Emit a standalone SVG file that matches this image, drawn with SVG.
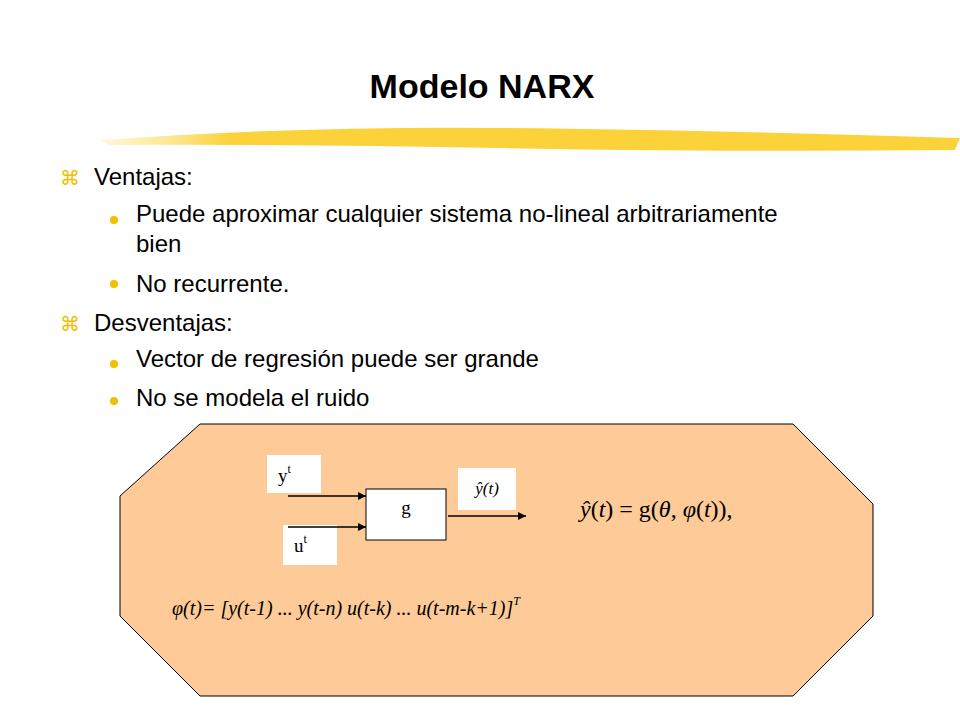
<svg xmlns="http://www.w3.org/2000/svg" width="960" height="720" viewBox="0 0 960 720">
<defs>
<style>
.t{font-family:"Liberation Sans",Arial,sans-serif;font-size:24px;fill:#000}
.b{font-family:"DejaVu Sans",sans-serif;font-size:20px;fill:#f0c000}
.m{font-family:"Liberation Serif","Times New Roman",serif;fill:#000}
.w{fill:#fff}
.ln{stroke:#000;stroke-width:1.3;fill:none}
</style>
<linearGradient id="br" x1="0" x2="1"><stop offset="0" stop-color="#ffe680" stop-opacity="0.3"/><stop offset="0.15" stop-color="#fcd23a"/><stop offset="1" stop-color="#fcd23a"/></linearGradient>
<marker id="ar" viewBox="0 0 10 10" refX="10" refY="5" markerWidth="8" markerHeight="8" markerUnits="userSpaceOnUse" orient="auto"><path d="M0,0L10,5L0,10z" fill="#000"/></marker>
</defs>
<rect width="960" height="720" fill="#fff"/>
<text x="482" y="98" text-anchor="middle" style="font-family:'Liberation Sans',Arial,sans-serif;font-size:34px;font-weight:bold">Modelo NARX</text>
<path d="M100,140 Q300,126 500,128 T960,138 L955,150 Q700,152 500,148 T110,145 Z" fill="url(#br)"/>
<text x="60" y="185" class="b">⌘</text><text x="94" y="185" class="t">Ventajas:</text>
<circle cx="114" cy="220" r="4" fill="#f0c000"/><text x="136" y="222" class="t">Puede aproximar cualquier sistema no-lineal arbitrariamente</text>
<text x="136" y="252" class="t">bien</text>
<circle cx="114" cy="284" r="4" fill="#f0c000"/><text x="136" y="292" class="t">No recurrente.</text>
<text x="60" y="331" class="b">⌘</text><text x="94" y="331" class="t">Desventajas:</text>
<circle cx="114" cy="364" r="4" fill="#f0c000"/><text x="136" y="367" class="t">Vector de regresión puede ser grande</text>
<circle cx="114" cy="401" r="4" fill="#f0c000"/><text x="136" y="406" class="t">No se modela el ruido</text>
<g id="panel"><polygon points="200,424 793,424 873,504 873,616 793,696 200,696 120,616 120,496" fill="#fdca98" stroke="#000" stroke-width="1"/></g>
<g id="yt"><rect x="267" y="455" width="54" height="38" class="w"/><text x="278" y="482" class="m" font-size="19">y<tspan font-size="12" dy="-9">t</tspan></text></g>
<g id="ut"><rect x="283" y="525" width="54" height="40" class="w"/><text x="294" y="552" class="m" font-size="19">u<tspan font-size="12" dy="-9">t</tspan></text></g>
<g id="yhat"><rect x="458" y="468" width="58" height="42" class="w"/><text x="487" y="494" class="m" font-size="17" font-style="italic" text-anchor="middle">ŷ(t)</text></g>
<g id="g"><rect x="366" y="489" width="80" height="51" fill="#fff" stroke="#000" stroke-width="1"/><text x="406" y="514" class="m" font-size="19" text-anchor="middle">g</text></g>
<g id="connectors">
<line x1="288" y1="496" x2="366" y2="496" class="ln" marker-end="url(#ar)"/>
<line x1="288" y1="527" x2="366" y2="527" class="ln" marker-end="url(#ar)"/>
<line x1="448" y1="516" x2="526" y2="516" class="ln" marker-end="url(#ar)"/>
</g>
<text x="580" y="517" class="m" font-size="24"><tspan font-style="italic">ŷ</tspan>(<tspan font-style="italic">t</tspan>) = g(<tspan font-style="italic">θ</tspan>, <tspan font-style="italic">φ</tspan>(<tspan font-style="italic">t</tspan>)),</text>
<text x="172" y="615" class="m" font-size="20" font-style="italic">φ(t)= [y(t-1) ... y(t-n) u(t-k) ... u(t-m-k+1)]<tspan font-size="12" dy="-10">T</tspan></text>
</svg>
